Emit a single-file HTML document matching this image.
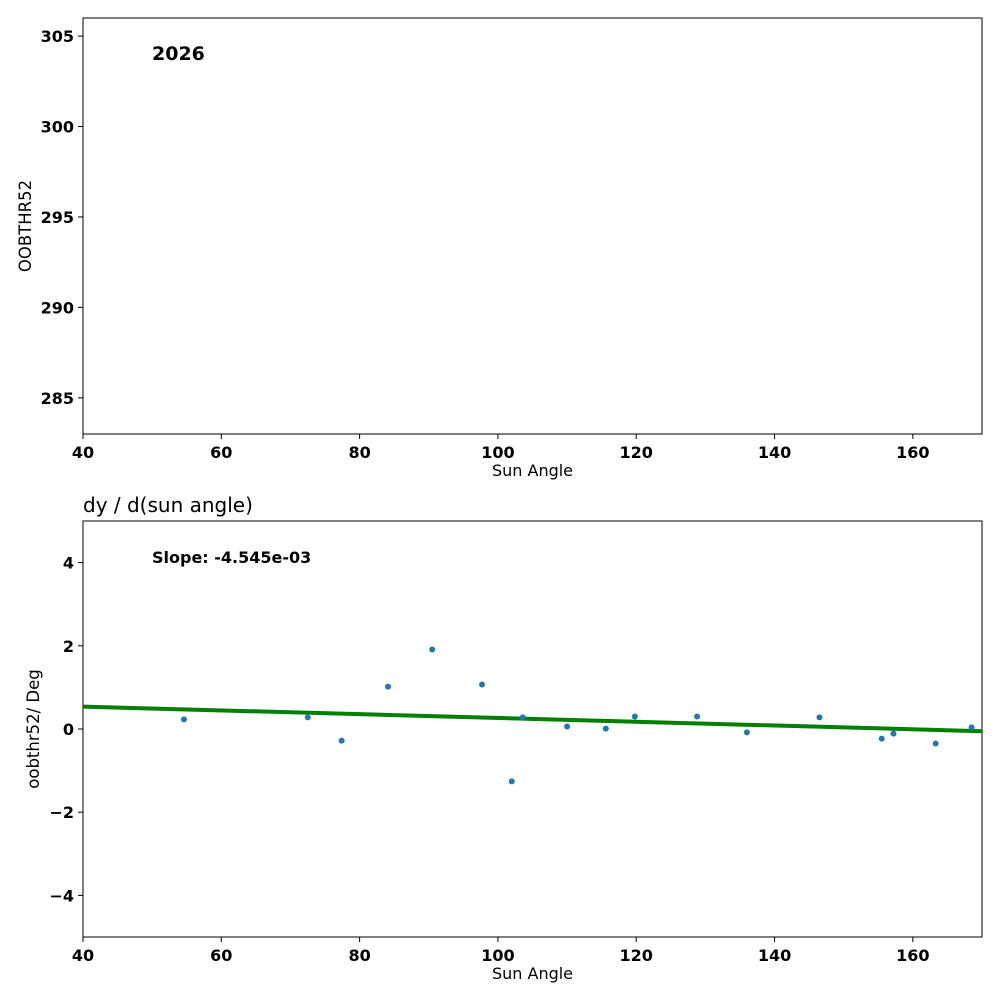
<!DOCTYPE html>
<html><head><meta charset="utf-8"><style>
body{margin:0;background:#fff;}
svg text{font-family:"DejaVu Sans","Liberation Sans",sans-serif;}
</style></head><body>
<svg id="fig" width="1000" height="1000" viewBox="0 0 1000 1000"></svg>
<script>
const xTicks=[40,60,80,100,120,140,160];
const topYTicks=[285,290,295,300,305];
const botYTicks=[-4,-2,0,2,4];
const sunAngle=[54.6,72.5,77.4,84.1,90.5,97.7,102.0,103.6,110.0,115.6,119.8,128.8,136.0,146.5,155.5,157.2,163.3,168.5];
const derivValues=[0.23,0.28,-0.28,1.02,1.91,1.07,-1.26,0.28,0.06,0.01,0.30,0.30,-0.08,0.28,-0.23,-0.11,-0.35,0.04];
const fitSlope=[-4.545e-3];
const fitIntercept=[0.72];

const NS="http://www.w3.org/2000/svg";
const svg=document.getElementById('fig');
function mk(tag,attrs,parent){const e=document.createElementNS(NS,tag);for(const k in attrs)e.setAttribute(k,attrs[k]);(parent||svg).appendChild(e);return e;}
const X0=83,X1=982;
const xs=v=>X0+(v-40)/(170-40)*(X1-X0);
function panel(top,bot,ymin,ymax,yTicks,yLabel,name){
  const ys=v=>bot-(v-ymin)/(ymax-ymin)*(bot-top);
  const g=mk('g',{});
  
  
  const r=mk('rect',{x:X0,y:top,width:X1-X0,height:bot-top,fill:'none',stroke:'#000','stroke-width':1},g);
  
  
  xTicks.forEach(t=>{
    mk('line',{x1:xs(t),x2:xs(t),y1:bot,y2:bot+5,stroke:'#000'},g);
    const tx=mk('text',{x:xs(t),y:bot+24,'text-anchor':'middle','font-size':16,'font-weight':'bold'},g);
    tx.textContent=t;
    
    
  });
  yTicks.forEach(t=>{
    mk('line',{x1:X0-5,x2:X0,y1:ys(t),y2:ys(t),stroke:'#000'},g);
    const tx=mk('text',{x:X0-9,y:ys(t)+6,'text-anchor':'end','font-size':16,'font-weight':'bold'},g);
    tx.textContent=t<0?'\u2212'+(-t):t;
    
    
  });
  const xl=mk('text',{x:(X0+X1)/2,y:bot+42,'text-anchor':'middle','font-size':16},g);
  xl.textContent='Sun Angle';
  
  
  const cy=(top+bot)/2;
  const yl=mk('text',{x:0,y:0,'text-anchor':'middle','font-size':16.5,transform:`translate(${yLabel[1]},${cy}) rotate(-90)`},g);
  yl.textContent=yLabel[0];
  
  
  return {g,ys};
}
const p1=panel(18,434,283,306,topYTicks,['OOBTHR52',31],'top-panel');
const t1=mk('text',{x:152,y:60,'font-size':19,'font-weight':'bold'});
t1.textContent='2026';



const p2=panel(521,937,-5,5,botYTicks,['oobthr52/ Deg',39],'bottom-panel');
const tt=mk('text',{x:83,y:512,'font-size':20});
tt.textContent='dy / d(sun angle)';


const sl=mk('text',{x:152,y:563,'font-size':16,'font-weight':'bold'});
sl.textContent='Slope: -4.545e-03';



const clip=mk('clipPath',{id:'c2'});mk('rect',{x:X0,y:521,width:X1-X0,height:416},clip);
const fy=v=>fitIntercept[0]+fitSlope[0]*v;
const line=mk('line',{x1:xs(40),y1:p2.ys(fy(40)),x2:xs(170),y2:p2.ys(fy(170)),stroke:'#008000','stroke-width':4,'clip-path':'url(#c2)'});


sunAngle.forEach((a,i)=>{
  const c=mk('circle',{cx:xs(a),cy:p2.ys(derivValues[i]),r:3,fill:'#1f77b4'});
  
  
});
</script>
</body></html>
